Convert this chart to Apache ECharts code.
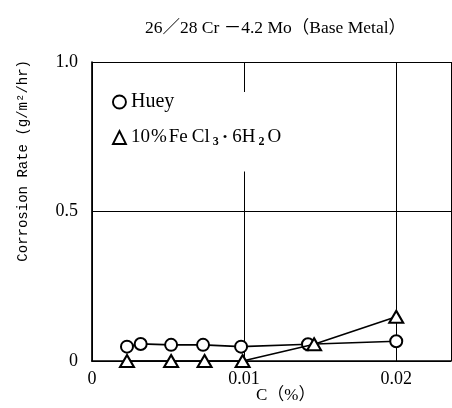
<!DOCTYPE html>
<html>
<head>
<meta charset="utf-8">
<script src="https://cdn.jsdelivr.net/npm/echarts@6/dist/echarts.min.js"></script>
<style>html,body{margin:0;padding:0;background:#fff}#c{width:452px;height:408px}</style>
</head>
<body>
<div id="c"></div>
<script>
// ---- data ----
var titleText = '26／28 Cr －4.2 Mo（Base Metal）';
var yAxisTitle = 'Corrosion Rate (g/m²/hr)';
var xAxisTitle = 'C（%）';
var seriesNames = ['Huey', '10%FeCl₃·6H₂O'];
var hueyC = [0.0023, 0.0032, 0.0052, 0.0073, 0.0098, 0.0142, 0.0200];
var hueyRate = [0.048, 0.057, 0.054, 0.054, 0.048, 0.056, 0.066];
var fecl3C = [0.0023, 0.0052, 0.0074, 0.0099, 0.0146, 0.0200];
var fecl3Rate = [0, 0, 0, 0, 0.056, 0.148];
var xTicks = [0, 0.01, 0.02];
var xTickLabels = ['0', '0.01', '0.02'];
var yTicks = [0, 0.5, 1.0];
var yTickLabels = ['0', '0.5', '1.0'];

var serif = '"Liberation Serif", "DejaVu Serif", "Noto Sans CJK JP", serif';
function pairs(xs, ys) { return xs.map(function (x, i) { return [x, ys[i]]; }); }
function tickLabel(ticks, labels) {
  return function (v) {
    for (var i = 0; i < ticks.length; i++) if (Math.abs(v - ticks[i]) < 1e-9) return labels[i];
    return '';
  };
}

var chart = echarts.init(document.getElementById('c'), null, { renderer: 'canvas' });
chart.setOption({
  animation: false,
  backgroundColor: '#fff',
  title: {
    text: titleText, left: 140, top: 15,
    textStyle: { fontFamily: serif, fontSize: 17.5, fontWeight: 'normal', color: '#000' }
  },
  grid: { left: 92, right: 1, top: 62, bottom: 47, containLabel: false },
  legend: {
    orient: 'vertical', left: 110, top: 92,
    padding: [0, 6, 24, 2],
    backgroundColor: '#fff',
    itemWidth: 13, itemHeight: 13, itemGap: 16,
    data: [
      { name: seriesNames[0], icon: 'circle', itemStyle: { color: '#fff', borderColor: '#000', borderWidth: 1.9 } },
      { name: seriesNames[1], icon: 'triangle', itemStyle: { color: '#fff', borderColor: '#000', borderWidth: 1.9 } }
    ],
    formatter: function (n) {
      if (n === seriesNames[0]) return '{h|Huey}';
      return '{n|10}{p|%}{n|Fe}{g|}{n|Cl}{sub|3}{dot|•}{n|6H}{sub|2}{n|O}';
    },
    textStyle: {
      fontFamily: serif, fontSize: 19, color: '#000',
      rich: {
        h: { fontFamily: serif, fontSize: 20, color: '#000', padding: [0, 0, 0, 0] },
        n: { fontFamily: serif, fontSize: 19, color: '#000' },
        p: { fontFamily: serif, fontSize: 19, color: '#000', padding: [0, 2, 0, 1] },
        g: { width: 4 },
        sub: { fontFamily: serif, fontSize: 12, fontWeight: 'bold', color: '#000', padding: [8, 3, 0, 3] },
        dot: { fontFamily: serif, fontSize: 13, color: '#000', padding: [0, 5, 0, 1] }
      }
    }
  },
  xAxis: {
    type: 'value', min: 0, max: 0.0236, interval: 0.01,
    axisLine: { show: true, lineStyle: { color: '#000', width: 1.7 } },
    axisTick: { show: false },
    axisLabel: { formatter: tickLabel(xTicks, xTickLabels), fontFamily: serif, fontSize: 18, color: '#000', margin: 9, showMaxLabel: false },
    splitLine: { show: true, lineStyle: { color: '#000', width: 1 } }
  },
  yAxis: {
    type: 'value', min: 0, max: 1.0, interval: 0.5,
    axisLine: { show: true, lineStyle: { color: '#000', width: 1.7 } },
    axisTick: { show: false },
    axisLabel: { formatter: tickLabel(yTicks, yTickLabels), fontFamily: serif, fontSize: 18, color: '#000', margin: 14 },
    splitLine: { show: true, lineStyle: { color: '#000', width: 1 } }
  },
  graphic: [
    { type: 'text', left: 16, top: 60, rotation: Math.PI / 2,
      style: { text: yAxisTitle, fontFamily: '"Liberation Mono", "DejaVu Sans Mono", monospace', fontSize: 14, fill: '#000' } },
    { type: 'text', left: 256, top: 387,
      style: { text: xAxisTitle, fontFamily: serif, fontSize: 17, fill: '#000' } }
  ],
  series: [
    {
      name: seriesNames[0], type: 'line', data: pairs(hueyC, hueyRate),
      symbol: 'emptyCircle', symbolSize: 12,
      lineStyle: { color: '#000', width: 1.7 },
      itemStyle: { color: '#000', borderWidth: 1.9 }, z: 3
    },
    {
      name: seriesNames[1], type: 'line', data: pairs(fecl3C, fecl3Rate),
      symbol: 'emptyTriangle', symbolSize: [14, 12],
      lineStyle: { color: '#000', width: 1.7 },
      itemStyle: { color: '#000', borderWidth: 1.9 }, z: 4
    }
  ]
});
</script>
</body>
</html>
